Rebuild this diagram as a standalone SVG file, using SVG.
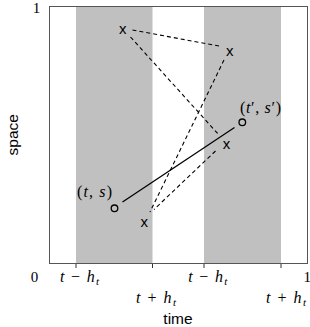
<svg xmlns="http://www.w3.org/2000/svg" width="310" height="327" viewBox="0 0 310 327">
<style>
.band{fill:#c0c0c0;stroke:none}
.frame{fill:none;stroke:#555;stroke-width:1}
.tick{stroke:#333;stroke-width:1}
.dash{stroke:#000;stroke-width:1.1;stroke-dasharray:4 3;fill:none}
.solid{stroke:#000;stroke-width:1.3;fill:none}
.circ{fill:none;stroke:#000;stroke-width:1.3}
.mk{font-family:"Liberation Sans",Arial,sans-serif;font-size:15px;text-anchor:middle;fill:#000}
.math{font-family:"Liberation Serif","Times New Roman",serif;font-size:16px;fill:#000}
.it{font-style:italic}
.sub{font-size:11px;font-style:italic}
.num{font-family:"Liberation Serif","Times New Roman",serif;font-size:15px;fill:#000}
.axis{font-family:"Liberation Sans",Arial,sans-serif;font-size:15.5px;fill:#000;text-anchor:middle}
</style>
<rect width="310" height="327" fill="#fff"/>
<g id="bands">
<rect class="band" x="76" y="6.5" width="76.5" height="257"/>
<rect class="band" x="204" y="6.5" width="77" height="257"/>
</g>
<rect class="frame" x="49.5" y="6.5" width="258" height="257"/>
<g id="ticks">
<line class="tick" x1="76" y1="264" x2="76" y2="268"/>
<line class="tick" x1="152.5" y1="264" x2="152.5" y2="268"/>
<line class="tick" x1="204" y1="264" x2="204" y2="268"/>
<line class="tick" x1="281" y1="264" x2="281" y2="268"/>
</g>
<g id="connectors">
<line class="dash" x1="132.5" y1="30" x2="221.5" y2="46.5"/>
<line class="dash" x1="130.5" y1="37" x2="219" y2="135"/>
<line class="dash" x1="224" y1="60" x2="150" y2="212"/>
<line class="dash" x1="215.5" y1="151" x2="154" y2="209.5"/>
<line class="solid" x1="122.5" y1="202" x2="234.5" y2="127.5"/>
</g>
<g id="x1"><text class="mk" x="122.7" y="33.5">x</text></g>
<g id="x2"><text class="mk" x="229.7" y="55.5">x</text></g>
<g id="x3"><text class="mk" x="226.5" y="148.5">x</text></g>
<g id="x4"><text class="mk" x="144.3" y="226.5">x</text></g>
<g id="p1"><circle class="circ" cx="114.5" cy="208.3" r="3.3"/>
<text class="math" x="77" y="197" textLength="35" lengthAdjust="spacing">(<tspan class="it">t</tspan>, <tspan class="it">s</tspan>)</text></g>
<g id="p2"><circle class="circ" cx="242.3" cy="122.3" r="3.3"/>
<text class="math" x="240" y="113" textLength="41" lengthAdjust="spacing">(<tspan class="it">t</tspan>′, <tspan class="it">s</tspan>′)</text></g>
<g id="labels">
<text class="num" x="34.5" y="281.5" text-anchor="middle">0</text>
<text class="num" x="36.5" y="12.5" text-anchor="middle">1</text>
<text class="num" x="303.5" y="281.5">1</text>
<text class="math" x="60" y="281.5" textLength="39" lengthAdjust="spacing"><tspan class="it">t</tspan> − <tspan class="it">h</tspan><tspan class="sub" dy="3">t</tspan></text>
<text class="math" x="188.3" y="281.5" textLength="39" lengthAdjust="spacing"><tspan class="it">t</tspan> − <tspan class="it">h</tspan><tspan class="sub" dy="3">t</tspan></text>
<text class="math" x="136" y="302.5" textLength="40" lengthAdjust="spacing"><tspan class="it">t</tspan> + <tspan class="it">h</tspan><tspan class="sub" dy="3">t</tspan></text>
<text class="math" x="266" y="302.5" textLength="40" lengthAdjust="spacing"><tspan class="it">t</tspan> + <tspan class="it">h</tspan><tspan class="sub" dy="3">t</tspan></text>
<text class="axis" x="178" y="323.5">time</text>
<text class="axis" x="18" y="134.7" transform="rotate(-90 18 134.7)">space</text>
</g>
</svg>
